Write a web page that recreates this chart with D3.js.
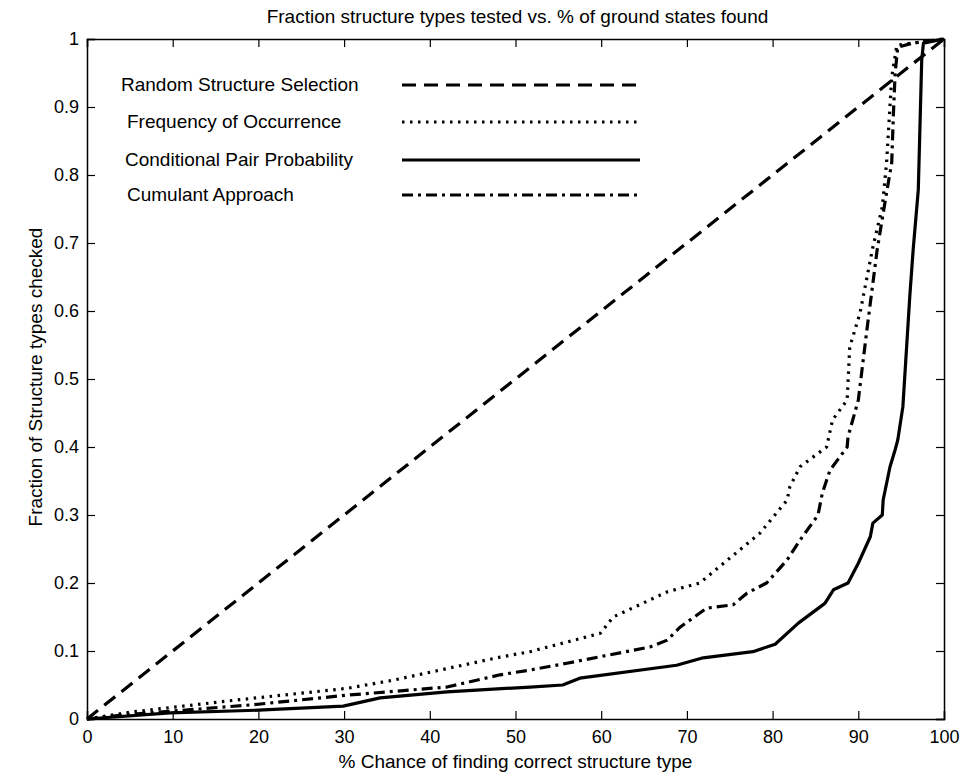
<!DOCTYPE html>
<html>
<head>
<meta charset="utf-8">
<title>Fraction structure types tested</title>
<script src="https://cdn.jsdelivr.net/npm/d3@7"></script>
<style>
  body { margin:0; background:#fff; }
  svg { font-family: "Liberation Sans", Arial, Helvetica, sans-serif; }
</style>
</head>
<body>
<script>
// data: x = % chance, y = fraction checked
var seriesNames = ["Random Structure Selection", "Frequency of Occurrence",
                   "Conditional Pair Probability", "Cumulant Approach"];

var randomX = [0, 100];
var randomY = [0, 1];

var freqX = [0, 5, 17.5, 30.3, 35.7, 48.2, 51.7, 59.9, 61.4, 67.7, 71.5, 78.5, 81.7, 82.0, 83.2, 86.3, 87.0, 88.7, 89.0, 90.2, 91.7, 92.8, 93.3, 93.9, 94.5, 100];
var freqY = [0, 0.01, 0.028, 0.045, 0.057, 0.091, 0.099, 0.126, 0.150, 0.187, 0.20, 0.273, 0.322, 0.341, 0.371, 0.40, 0.44, 0.469, 0.547, 0.597, 0.694, 0.753, 0.818, 0.944, 0.991, 1];

var condX = [0, 9.7, 20, 29.9, 34.2, 42, 51.7, 55.5, 57.5, 68.8, 71.9, 77.7, 80.3, 83.0, 86.1, 87.1, 88.8, 90.0, 91.4, 91.7, 92.8, 92.9, 93.7, 94.3, 94.6, 95.2, 96.0, 96.4, 97.0, 97.4, 97.6, 100];
var condY = [0, 0.009, 0.013, 0.019, 0.031, 0.040, 0.047, 0.050, 0.060, 0.079, 0.090, 0.099, 0.110, 0.141, 0.170, 0.190, 0.20, 0.229, 0.268, 0.288, 0.30, 0.322, 0.371, 0.396, 0.41, 0.459, 0.62, 0.69, 0.778, 0.969, 0.994, 1];

var cumX = [0, 4.2, 19.4, 30.3, 42, 48.2, 51.7, 56, 65.7, 67.7, 69.2, 72.3, 75.4, 77, 79.3, 81.7, 83.2, 85.3, 85.8, 86.7, 88.7, 88.8, 90.0, 91.0, 92.2, 93.3, 93.9, 94.1, 94.3, 94.6, 96.4, 100];
var cumY = [0, 0.006, 0.021, 0.035, 0.047, 0.065, 0.072, 0.082, 0.106, 0.116, 0.135, 0.163, 0.168, 0.185, 0.20, 0.234, 0.263, 0.30, 0.332, 0.366, 0.40, 0.415, 0.469, 0.572, 0.69, 0.774, 0.818, 0.891, 0.95, 0.988, 0.994, 1];

var xTicks = [0, 10, 20, 30, 40, 50, 60, 70, 80, 90, 100];
var yTicks = [0, 0.1, 0.2, 0.3, 0.4, 0.5, 0.6, 0.7, 0.8, 0.9, 1];

var W = 963, H = 781;
var margin = {left: 87, right: 19, top: 39, bottom: 62};

var svg = d3.select("body").append("svg")
    .attr("width", W).attr("height", H);

var x = d3.scaleLinear().domain([0, 100]).range([margin.left, W - margin.right]);
var y = d3.scaleLinear().domain([0, 1]).range([H - margin.bottom, margin.top]);

// axes with inward ticks on all four sides
var tk = 8;
svg.append("g").attr("class", "ax")
    .attr("transform", "translate(0," + y(0) + ")")
    .call(d3.axisBottom(x).tickValues(xTicks).tickSize(-tk).tickPadding(11).tickFormat(d3.format("d")));
svg.append("g").attr("class", "ax")
    .attr("transform", "translate(0," + y(1) + ")")
    .call(d3.axisTop(x).tickValues(xTicks).tickSize(-tk).tickFormat(""));
svg.append("g").attr("class", "ax")
    .attr("transform", "translate(" + x(0) + ",0)")
    .call(d3.axisLeft(y).tickValues(yTicks).tickSize(-tk).tickPadding(8).tickFormat(function(d){ return d3.format("~g")(d); }));
svg.append("g").attr("class", "ax")
    .attr("transform", "translate(" + x(100) + ",0)")
    .call(d3.axisRight(y).tickValues(yTicks).tickSize(-tk).tickFormat(""));

svg.selectAll(".ax .domain").attr("stroke", "#000").attr("stroke-width", 1.5);
svg.selectAll(".ax line").attr("stroke", "#000").attr("stroke-width", 1.2);
svg.selectAll(".ax text").attr("font-size", 18).attr("fill", "#000")
    .attr("font-family", "Liberation Sans, Arial, sans-serif");

// curves
var line = d3.line().x(function(d){ return x(d[0]); }).y(function(d){ return y(d[1]); });
function pts(xs, ys) { return xs.map(function(v, i){ return [v, ys[i]]; }); }

var styles = [
  {dash: "14,8"},
  {dash: "2.5,5.5"},
  {dash: null},
  {dash: "11,5,3,5"}
];
var data = [pts(randomX, randomY), pts(freqX, freqY), pts(condX, condY), pts(cumX, cumY)];

data.forEach(function(d, i) {
  svg.append("path")
    .attr("d", line(d))
    .attr("fill", "none")
    .attr("stroke", "#000")
    .attr("stroke-width", 3.2)
    .attr("stroke-linejoin", "round")
    .attr("stroke-dasharray", styles[i].dash);
});

// legend inside the plot
var legTextX = [121, 127, 125, 127];
var legY = [84, 121, 159, 194];
svg.selectAll(".legtxt").data(seriesNames).enter().append("text")
    .attr("class", "legtxt")
    .attr("x", function(d, i){ return legTextX[i]; })
    .attr("y", function(d, i){ return legY[i]; })
    .attr("dy", "0.35em")
    .attr("font-size", 19)
    .text(function(d){ return d; });
seriesNames.forEach(function(n, i) {
  svg.append("line")
    .attr("x1", 402).attr("x2", 640)
    .attr("y1", legY[i] + 1).attr("y2", legY[i] + 1)
    .attr("stroke", "#000").attr("stroke-width", 3.2)
    .attr("stroke-dasharray", styles[i].dash);
});

// titles
svg.append("text")
    .attr("x", (x(0) + x(100)) / 2 + 2).attr("y", 23)
    .attr("text-anchor", "middle").attr("font-size", 19)
    .text("Fraction structure types tested vs. % of ground states found");
svg.append("text")
    .attr("x", (x(0) + x(100)) / 2).attr("y", 768)
    .attr("text-anchor", "middle").attr("font-size", 19)
    .text("% Chance of finding correct structure type");
svg.append("text")
    .attr("transform", "translate(42," + ((y(0) + y(1)) / 2 - 2) + ") rotate(-90)")
    .attr("text-anchor", "middle").attr("font-size", 19)
    .text("Fraction of Structure types checked");
</script>
</body>
</html>
